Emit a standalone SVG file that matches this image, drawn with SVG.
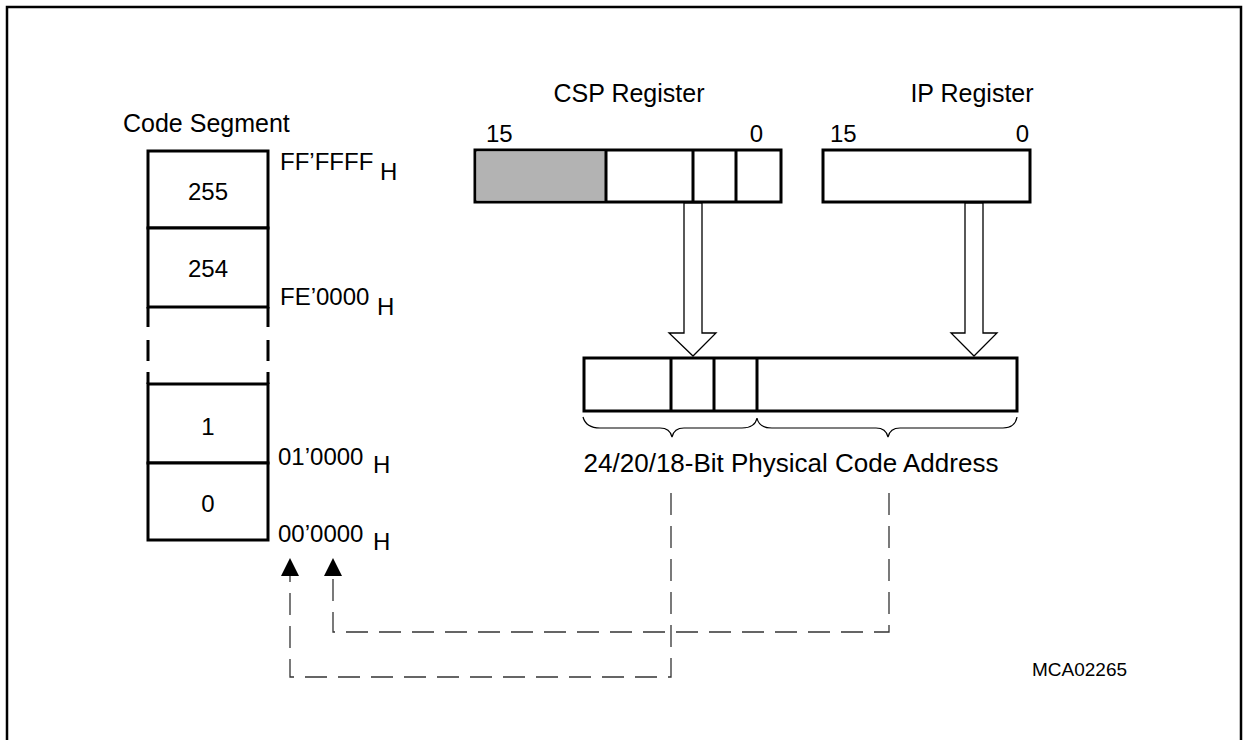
<svg xmlns="http://www.w3.org/2000/svg" width="1243" height="740" viewBox="0 0 1243 740">
<style>
text{font-family:"Liberation Sans",Arial,Helvetica,sans-serif;fill:#000}
.t{font-size:25px}
.l{font-size:24px}
.box{fill:#fff;stroke:#000;stroke-width:3}
.ln{stroke:#000;stroke-width:3;fill:none}
.blk{fill:#fff;stroke:#000;stroke-width:1.3}
.dash{fill:none;stroke:#333;stroke-width:1.3;stroke-dasharray:22 11}
.brace{fill:none;stroke:#000;stroke-width:1.2}
</style>
<defs>
<marker id="tri" viewBox="0 0 18 18" refX="0" refY="9" markerWidth="18" markerHeight="18" markerUnits="userSpaceOnUse" orient="auto">
<path d="M0,0 L18,9 L0,18 Z" fill="#000"/>
</marker>
</defs>
<rect width="1243" height="740" fill="#fff"/>
<path d="M7,740 V7 H1241 V740" fill="none" stroke="#000" stroke-width="2.5"/>

<g id="code-segment">
<text class="t" x="123" y="132">Code Segment</text>
<rect class="box" x="148" y="151" width="120" height="77"/>
<rect class="box" x="148" y="228" width="120" height="79"/>
<path class="ln" d="M148,307 V327 M268,307 V327 M148,340 V361 M268,340 V361 M148,372 V384 M268,372 V384"/>
<rect class="box" x="148" y="384" width="120" height="79"/>
<rect class="box" x="148" y="463" width="120" height="77"/>
<text class="l" x="208" y="200" text-anchor="middle">255</text>
<text class="l" x="208" y="277" text-anchor="middle">254</text>
<text class="l" x="208" y="435" text-anchor="middle">1</text>
<text class="l" x="208" y="512" text-anchor="middle">0</text>
<text class="l" x="280" y="170">FF’FFFF</text>
<text class="l" x="380" y="180">H</text>
<text class="l" x="280" y="305">FE’0000</text>
<text class="l" x="377" y="315">H</text>
<text class="l" x="278" y="465">01’0000</text>
<text class="l" x="373" y="473">H</text>
<text class="l" x="278" y="542">00’0000</text>
<text class="l" x="373" y="550">H</text>
</g>

<g id="csp-register">
<text class="t" x="629" y="102" text-anchor="middle">CSP Register</text>
<text class="l" x="486" y="142">15</text>
<text class="l" x="763" y="142" text-anchor="end">0</text>
<rect class="box" x="475" y="150" width="306" height="52"/>
<rect x="476.5" y="151.5" width="129.5" height="49" fill="#b3b3b3"/>
<path class="ln" d="M606,150 V202 M693,150 V202 M736,150 V202"/>
</g>

<g id="ip-register">
<text class="t" x="972" y="102" text-anchor="middle">IP Register</text>
<text class="l" x="830" y="142">15</text>
<text class="l" x="1029" y="142" text-anchor="end">0</text>
<rect class="box" x="823" y="150" width="207" height="52"/>
</g>

<g id="physical-address">
<rect class="box" x="584" y="358" width="433" height="53"/>
<path class="ln" d="M671,358 V411 M714,358 V411 M757,358 V411"/>
<path class="brace" d="M583,417 Q586,428 600,428 H660 Q670,428 672,437 Q674,428 684,428 H742 Q755,428 757,418 Q759,428 772,428 H876 Q886,428 888,437 Q890,428 900,428 H1003 Q1015,428 1017,417"/>
<text x="791" y="472" text-anchor="middle" style="font-size:26px">24/20/18-Bit Physical Code Address</text>
</g>

<g id="label">
<text x="1032" y="676" style="font-size:19px">MCA02265</text>
</g>

<g id="connectors">
<polygon class="blk" points="684,203 684,333 669,333 693,356 716,333 702,333 702,203"/>
<polygon class="blk" points="965,203 965,333 951,333 974,356 997,333 983,333 983,203"/>
<path class="dash" d="M671,493 V677 H290 V576" marker-end="url(#tri)"/>
<path class="dash" d="M889,493 V632 H333 V576" marker-end="url(#tri)"/>
</g>
</svg>
